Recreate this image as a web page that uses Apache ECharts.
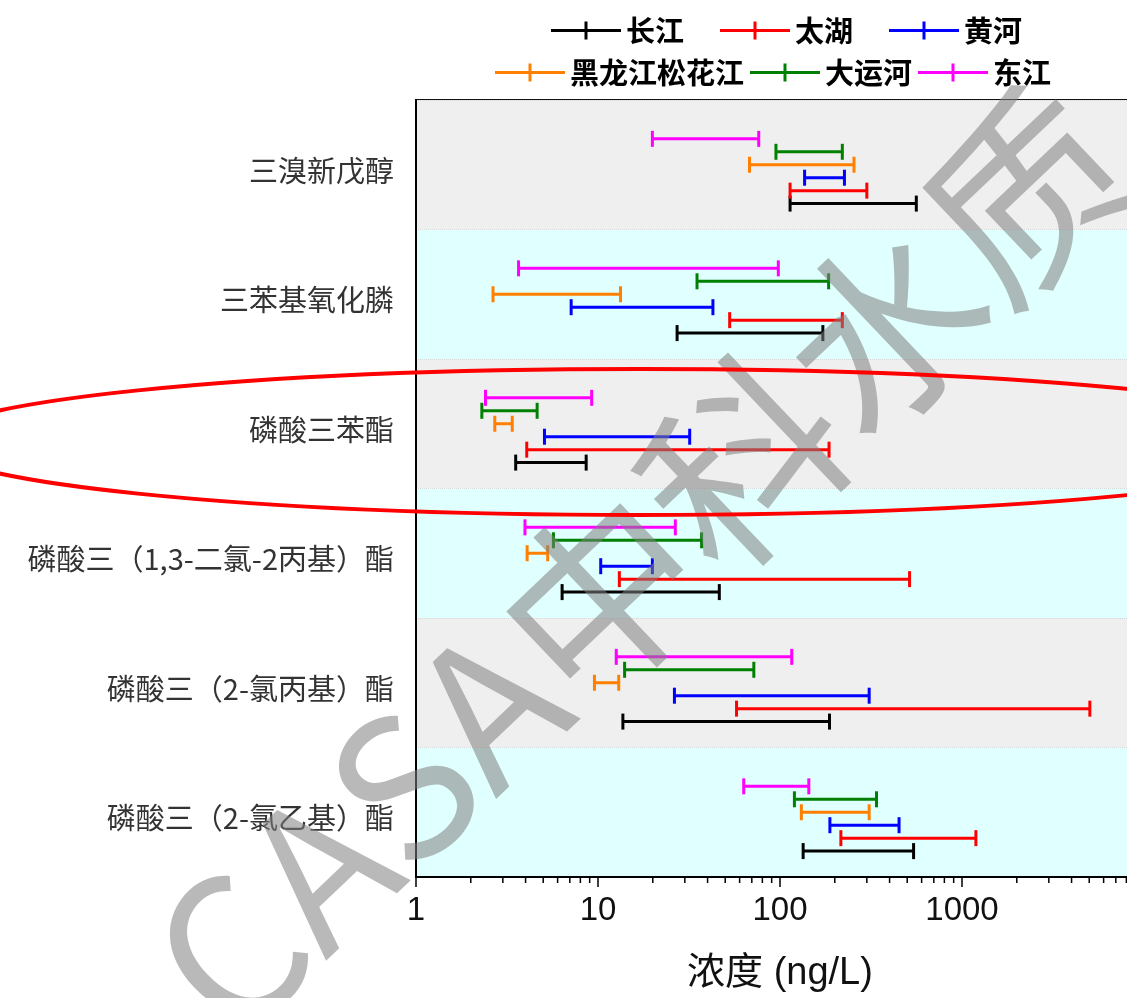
<!DOCTYPE html>
<html><head><meta charset="utf-8">
<script src="https://cdn.jsdelivr.net/npm/echarts@6/dist/echarts.min.js"></script>
<style>html,body{margin:0;padding:0;background:#fff;overflow:hidden}#c{width:1160px;height:998px}</style>
</head><body><div id="c"></div>
<script>
const categories = ['三溴新戊醇','三苯基氧化膦','磷酸三苯酯','磷酸三（1,3-二氯-2丙基）酯','磷酸三（2-氯丙基）酯','磷酸三（2-氯乙基）酯'];
const seriesNames = ['长江','太湖','黄河','黑龙江松花江','大运河','东江'];
const seriesColors = ['#000000','#ff0000','#0000ff','#ff8000','#008000','#ff00ff'];
const changjiangLow  = [113.6, 27.2, 3.53, 6.35, 13.7, 134];
const changjiangHigh = [561, 172, 8.61, 46.4, 187, 542];
const taihuLow  = [113.6, 52.9, 4.06, 13.1, 57.7, 216];
const taihuHigh = [300, 220, 186, 515, 5040, 1192];
const huangheLow  = [136.5, 7.12, 5.08, 10.35, 26.3, 188];
const huangheHigh = [226, 42.8, 31.9, 19.9, 309, 451];
const songhuaLow  = [68, 2.65, 2.71, 4.08, 9.56, 131];
const songhuaHigh = [255, 13.3, 3.38, 5.29, 13.0, 309];
const yunheLow  = [95, 35, 2.30, 5.69, 14.0, 120];
const yunheHigh = [220, 185, 4.63, 37.1, 71.8, 339];
const dongjiangLow  = [19.9, 3.66, 2.41, 3.97, 12.6, 63.2];
const dongjiangHigh = [76.4, 97.9, 9.23, 26.6, 116, 144];
const xTickLabels = ['1','10','100','1000'];
const minorTickValues = [2,3,4,5,6,7,8,9,20,30,40,50,60,70,80,90,200,300,400,500,600,700,800,900,2000,3000,4000,5000,6000,7000,8000,9000];

const lows = [changjiangLow, taihuLow, huangheLow, songhuaLow, yunheLow, dongjiangLow];
const highs = [changjiangHigh, taihuHigh, huangheHigh, songhuaHigh, yunheHigh, dongjiangHigh];

function makeRender(slot) {
  return function (params, api) {
    const c = api.value(0);
    const lo = api.coord([api.value(1), c]);
    const hi = api.coord([api.value(2), c]);
    const band = params.coordSys.height / categories.length;
    const y = lo[1] + (3 - slot) * 0.1 * band;
    const color = api.visual('color');
    const st = { stroke: color, lineWidth: 3, lineCap: 'butt' };
    const cap = 8;
    return { type: 'group', children: [
      { type: 'line', shape: { x1: lo[0], y1: y, x2: hi[0], y2: y }, style: st },
      { type: 'line', shape: { x1: lo[0], y1: y - cap, x2: lo[0], y2: y + cap }, style: st },
      { type: 'line', shape: { x1: hi[0], y1: y - cap, x2: hi[0], y2: y + cap }, style: st }
    ]};
  };
}

const series = seriesNames.map(function (name, i) {
  return {
    name: name, type: 'custom', z: 5,
    itemStyle: { color: seriesColors[i] },
    encode: { y: 0, x: [1, 2] },
    renderItem: makeRender(i),
    data: categories.map(function (cat, k) { return [k, lows[i][k], highs[i][k]]; })
  };
});
series.push({
  name: 'minorTicks', type: 'custom', silent: true, clip: false, z: 6,
  encode: { x: 0, y: 1 },
  renderItem: function (params, api) {
    const p = api.coord([api.value(0), 0]);
    const yb = params.coordSys.y + params.coordSys.height;
    return { type: 'line', shape: { x1: p[0], y1: yb, x2: p[0], y2: yb + 6 }, style: { stroke: '#000', lineWidth: 1.5 } };
  },
  data: minorTickValues.map(function (v) { return [v, 0]; })
});

const iconPath = 'path://M0,8.5h70v3H0z M33.5,1h3v18h-3z';
const legendText = { fontSize: 29, fontWeight: 'bold', color: '#000', fontFamily: '"Noto Sans CJK SC", sans-serif' };

const chart = echarts.init(document.getElementById('c'), null, { renderer: 'canvas' });
chart.setOption({
  animation: false,
  backgroundColor: '#fff',
  legend: [
    { data: seriesNames.slice(0, 3), left: 546, top: 11, itemWidth: 70, itemHeight: 18, itemGap: 36, icon: iconPath, textStyle: legendText },
    { data: seriesNames.slice(3), left: 490, top: 53, itemWidth: 70, itemHeight: 18, itemGap: 6, icon: iconPath, textStyle: legendText }
  ],
  grid: { left: 416, top: 100, width: 728, height: 780, show: true, borderColor: '#111', borderWidth: 2, backgroundColor: 'transparent', containLabel: false },
  xAxis: {
    type: 'log', logBase: 10, min: 1, max: 10000,
    name: '浓度 (ng/L)', nameLocation: 'middle', nameGap: 78,
    nameTextStyle: { fontSize: 38, color: '#111', fontFamily: '"Liberation Sans", "Noto Sans CJK SC", sans-serif' },
    axisLine: { show: true, lineStyle: { color: '#000', width: 2 } },
    axisTick: { show: true, inside: false, length: 10, lineStyle: { color: '#000', width: 1.5 } },
    axisLabel: { fontSize: 33, color: '#111', margin: 17, fontFamily: '"Liberation Sans", Arial, sans-serif',
      formatter: function (v) { const s = String(Math.round(v)); return xTickLabels.indexOf(s) >= 0 ? s : ''; } },
    splitLine: { show: false }
  },
  yAxis: {
    type: 'category', inverse: true, data: categories,
    axisLine: { show: true, lineStyle: { color: '#000', width: 2 } },
    axisTick: { show: false },
    axisLabel: { fontSize: 29, color: '#333', margin: 22, verticalAlign: 'top', lineHeight: 12, fontFamily: '"Noto Sans CJK SC", sans-serif' },
    splitArea: { show: true, areaStyle: { color: ['#efefef', '#e0ffff'] } },
    splitLine: { show: true, lineStyle: { color: '#d8d8d8', type: 'dotted', width: 1 } }
  },
  series: series,
  graphic: [
    { type: 'text', x: 640, y: 560, rotation: 0.76, z: 100, silent: true,
      style: { text: 'CASA中科水质', fontSize: 195, fontFamily: '"Noto Sans CJK SC", sans-serif', fill: 'rgba(128,128,128,0.55)', align: 'center', verticalAlign: 'middle' } },
    { type: 'ellipse', z: 101, silent: true, shape: { cx: 640, cy: 442, rx: 710, ry: 73 },
      style: { fill: 'none', stroke: '#ff0000', lineWidth: 4 } }
  ]
});
</script></body></html>
